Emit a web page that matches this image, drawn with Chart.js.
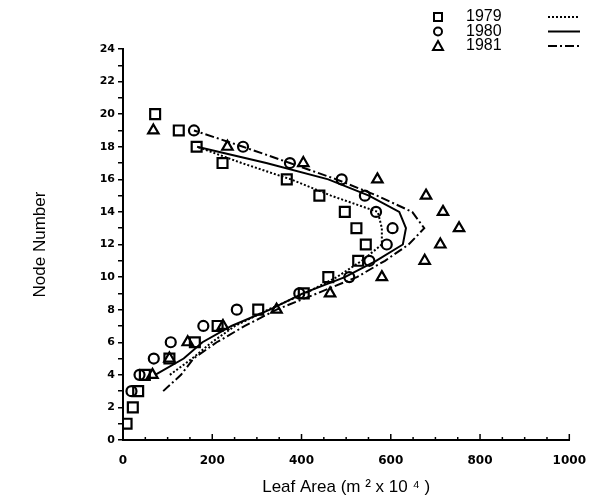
<!DOCTYPE html>
<html>
<head>
<meta charset="utf-8">
<script src="https://cdn.jsdelivr.net/npm/chart.js@4.4.1/dist/chart.umd.min.js"></script>
<style>
  html, body { margin: 0; padding: 0; background: #fff; }
  #wrap { width: 592px; height: 500px; }
</style>
</head>
<body>
<div id="wrap"><canvas id="myChart"></canvas></div>
<script>
// observed leaf area per node
var years = ['1979', '1980', '1981'];
var nodes79 = [1, 2, 3, 4, 5, 6, 7, 8, 9, 10, 11, 12, 13, 14, 15, 16, 17, 18, 19, 20];
var leaf79 = [8, 22, 34, 49, 104, 161, 212, 303, 405, 460, 527, 544, 523, 497, 440, 367, 223, 165, 125, 72];
var nodes80 = [3, 4, 5, 6, 7, 8, 9, 10, 11, 12, 13, 14, 15, 16, 17, 18, 19];
var leaf80 = [19, 37, 69, 107, 180, 255, 395, 507, 552, 591, 604, 567, 542, 490, 374, 269, 159];
var nodes81 = [4, 5, 6, 7, 8, 9, 10, 11, 12, 13, 14, 15, 16, 17, 18, 19];
var leaf81 = [66, 104, 145, 224, 344, 464, 580, 676, 711, 753, 717, 679, 570, 404, 234, 68];

// fitted curves
var fitNodes79 = [4, 5, 6, 7, 8, 9, 10, 11, 12, 13, 14, 15, 16, 17, 18];
var fit79 = [105, 155, 199, 251, 325, 408, 479, 535, 580, 580, 571, 466, 376, 266, 166];
var fitNodes80 = [4, 5, 6, 7, 8, 9, 10, 11, 12, 13, 14, 15, 16, 17, 18];
var fit80 = [72, 136, 178, 243, 329, 403, 497, 567, 627, 634, 619, 551, 460, 321, 166];
var fitNodes81 = [3, 4, 5, 6, 7, 8, 9, 10, 11, 12, 13, 14, 15, 16, 17, 18, 19];
var fit81 = [90, 130, 158, 210, 273, 344, 435, 524, 587, 640, 675, 648, 569, 478, 374, 269, 159];

var pointStyles = ['rect', 'circle', 'triangle'];
var pointSizes = [7, 5, 6];
var dashes = [[2, 2], [], [9, 3, 2, 3]];

function pts(xs, ys) {
  return xs.map(function (n, i) { return { x: ys[i], y: n }; });
}

function scatterSet(i, data) {
  return {
    label: years[i],
    data: data,
    showLine: false,
    pointStyle: pointStyles[i],
    pointRadius: pointSizes[i],
    pointBorderWidth: 2.2,
    pointBorderColor: '#000',
    pointBackgroundColor: 'rgba(255,255,255,0)'
  };
}

function fitSet(i, data) {
  return {
    label: years[i] + ' fit',
    data: data,
    showLine: true,
    pointRadius: 0,
    borderColor: '#000',
    borderWidth: 2,
    borderDash: dashes[i],
    fill: false
  };
}

function drawMarker(ctx, style, x, y) {
  ctx.beginPath();
  if (style === 'rect') {
    ctx.rect(x - 4, y - 4, 8, 8);
  } else if (style === 'circle') {
    ctx.arc(x, y, 4, 0, Math.PI * 2);
  } else {
    ctx.moveTo(x, y - 5);
    ctx.lineTo(x + 5, y + 4);
    ctx.lineTo(x - 5, y + 4);
    ctx.closePath();
  }
  ctx.stroke();
}

// legend: marker, year, line sample
var yearLegend = {
  id: 'yearLegend',
  afterDraw: function (chart) {
    var ctx = chart.ctx;
    ctx.save();
    years.forEach(function (yr, i) {
      var y = 17 + i * 14.5;
      ctx.strokeStyle = '#000';
      ctx.lineWidth = 2;
      ctx.setLineDash([]);
      drawMarker(ctx, pointStyles[i], 438, y);
      ctx.fillStyle = '#000';
      ctx.font = '16px "Liberation Sans", Arial, sans-serif';
      ctx.textBaseline = 'middle';
      ctx.fillText(yr, 466, y);
      ctx.setLineDash(dashes[i]);
      ctx.beginPath();
      ctx.moveTo(548, y);
      ctx.lineTo(580, y);
      ctx.stroke();
    });
    ctx.restore();
  }
};

// x tick marks point up into the plot
var xTicksUp = {
  id: 'xTicksUp',
  afterDraw: function (chart) {
    var ctx = chart.ctx;
    var xs = chart.scales.x;
    var bottom = chart.chartArea.bottom;
    ctx.save();
    ctx.strokeStyle = '#000';
    ctx.lineWidth = 1.5;
    for (var v = 50; v <= 1000; v += 50) {
      var px = xs.getPixelForValue(v);
      ctx.beginPath();
      ctx.moveTo(px, bottom);
      ctx.lineTo(px, bottom - (v % 200 === 0 ? 6 : 3));
      ctx.stroke();
    }
    ctx.restore();
  }
};

var tickFont = { family: '"DejaVu Sans", sans-serif', size: 11, weight: 'bold' };
var titleFont = { family: '"Liberation Sans", Arial, sans-serif', size: 17 };

var ctx = document.getElementById('myChart').getContext('2d');
var myChart = new Chart(ctx, {
  type: 'scatter',
  data: {
    datasets: [
      scatterSet(0, pts(nodes79, leaf79)),
      scatterSet(1, pts(nodes80, leaf80)),
      scatterSet(2, pts(nodes81, leaf81)),
      fitSet(0, pts(fitNodes79, fit79)),
      fitSet(1, pts(fitNodes80, fit80)),
      fitSet(2, pts(fitNodes81, fit81))
    ]
  },
  options: {
    responsive: true,
    maintainAspectRatio: false,
    animation: false,
    layout: { padding: { top: 49, right: 20, left: 0, bottom: 0 } },
    plugins: {
      legend: { display: false },
      tooltip: { enabled: false }
    },
    scales: {
      x: {
        type: 'linear',
        min: 0,
        max: 1000,
        ticks: {
          stepSize: 200,
          font: { family: '"DejaVu Sans", sans-serif', size: 12, weight: 'bold' },
          color: '#000',
          padding: 6,
          callback: function (v) { return String(v); }
        },
        grid: { display: false },
        border: { display: true, color: '#000', width: 2 },
        title: {
          display: true,
          text: 'Leaf Area (m ² x 10 ⁴ )',
          font: titleFont,
          color: '#000',
          padding: { top: 4, bottom: 2 }
        },
        afterFit: function (s) { s.height = 60; }
      },
      y: {
        type: 'linear',
        min: 0,
        max: 24,
        ticks: {
          stepSize: 1,
          autoSkip: false,
          font: tickFont,
          color: '#000',
          padding: 3,
          callback: function (v) { return v % 2 === 0 ? String(v) : ''; }
        },
        grid: { display: true, drawOnChartArea: false, drawTicks: true, tickLength: 5, color: '#000', lineWidth: 1.5 },
        border: { display: true, color: '#000', width: 2 },
        title: {
          display: true,
          text: 'Node Number',
          font: titleFont,
          color: '#000',
          padding: { top: 30, bottom: 0 }
        },
        afterFit: function (s) { s.width = 123; }
      }
    }
  },
  plugins: [yearLegend, xTicksUp]
});
</script>
</body>
</html>
